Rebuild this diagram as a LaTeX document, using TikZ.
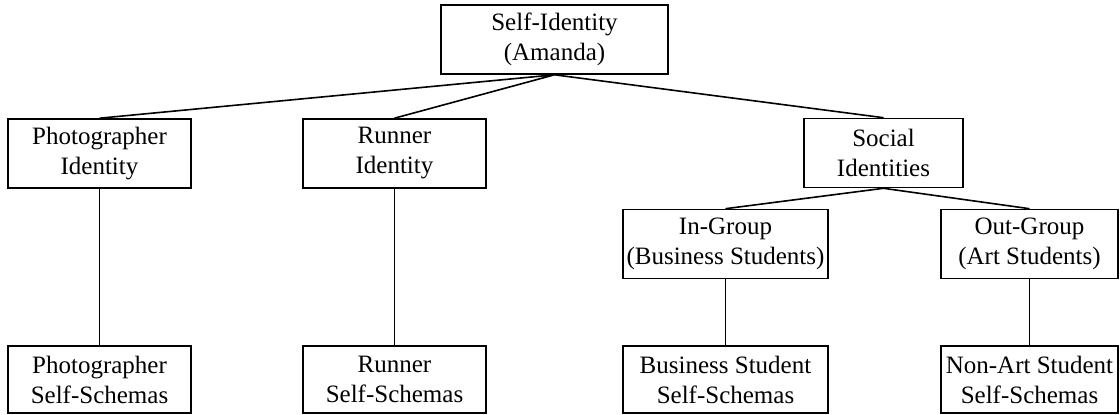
\documentclass[tikz,border=0pt]{standalone}
\usepackage{fontspec}
\setmainfont{Liberation Serif}
\usetikzlibrary{calc}

\begin{document}
\begin{tikzpicture}[x=1pt, y=-1pt, line width=1.6pt]

		\tikzstyle{box}  = [rectangle, draw, align=center, inner sep=0pt, minimum height=69pt, fill=white, font=\fontsize{25}{30}\selectfont]
		\useasboundingbox (0,0) rectangle (1120,415);
		%%Boxes
		\node [box, minimum width=227pt](self) at (554.5,39.5) {Self-Identity\\(Amanda)};
		\node [box, minimum width=183pt](photo) at (99.5,153.5) {Photographer\\Identity};
		\node [box, minimum width=183pt](runner) at ($(photo) + (295, 0)$) {Runner\\Identity};
		\node [box, minimum width=159pt](social) at (883.5,153) {Social\\Identities};
		\node [box, minimum width=205pt](ingroup) at (725.5,244) {In-Group\\(Business Students)};
		\node [box, minimum width=177pt](outgroup) at ($(ingroup) + (304, 0)$) {Out-Group\\(Art Students)};
		\node [box, minimum width=183pt, minimum height=67pt](photoschema) at ($(photo) + (0, 226)$) {Photographer\\Self-Schemas};
		\node [box, minimum width=183pt, minimum height=67pt](runnerschema) at ($(runner) + (0, 226)$) {Runner\\Self-Schemas};
		\node [box, minimum width=205pt, minimum height=67pt](inschema) at ($(ingroup) + (0, 135.5)$) {Business Student\\Self-Schemas};
		\node [box, minimum width=177pt, minimum height=67pt](outschema) at ($(outgroup) + (0, 135.5)$) {Non-Art Student\\Self-Schemas};
		%%Edges
		\draw (photo.north)--(self.south)--(runner.north);
		\draw (self.south)--(social.north);
		\draw (ingroup.north)--(social.south)--(outgroup.north);
		\draw (photo.south)--(photoschema.north);
		\draw (runner.south)--(runnerschema.north);
		\draw (ingroup.south)--(inschema.north);
		\draw (outgroup.south)--(outschema.north);
	\end{tikzpicture}
\end{document}
